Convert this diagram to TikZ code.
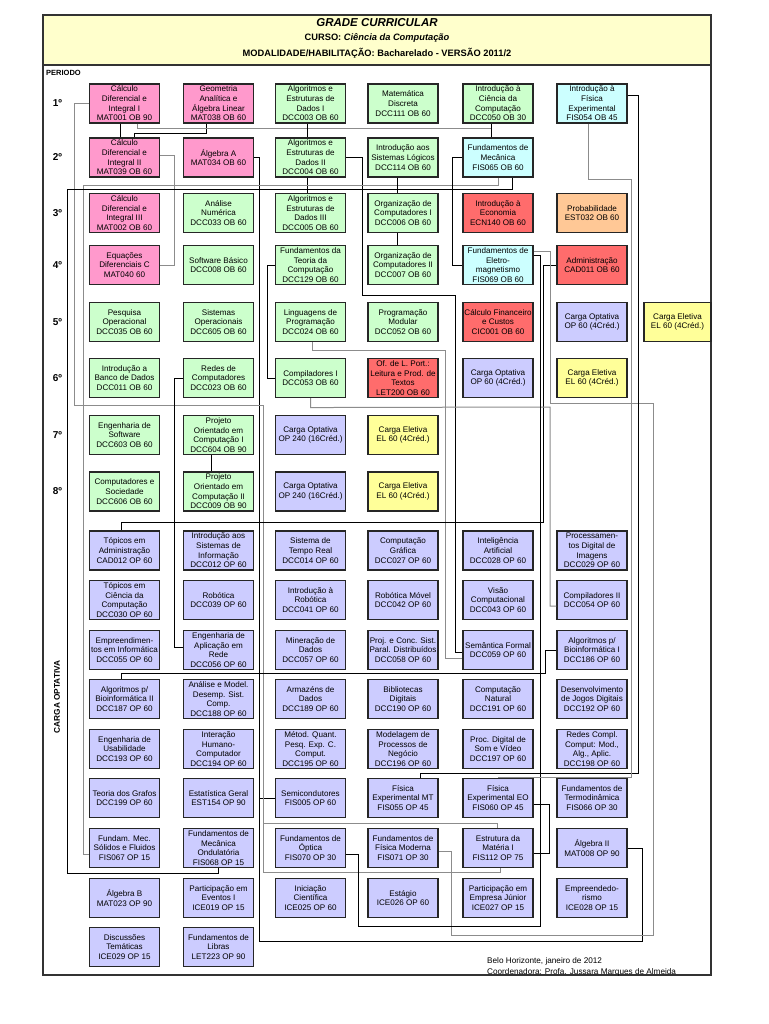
\documentclass[tikz,border=0pt]{standalone}
\usepackage{fontspec}
\setmainfont{Liberation Sans}
\definecolor{pk}{RGB}{255,153,204}
\definecolor{gr}{RGB}{204,255,204}
\definecolor{cy}{RGB}{204,255,255}
\definecolor{rd}{RGB}{255,108,108}
\definecolor{og}{RGB}{255,200,150}
\definecolor{lv}{RGB}{204,204,255}
\definecolor{yl}{RGB}{255,255,153}
\definecolor{hd}{RGB}{255,255,204}
\begin{document}
\begin{tikzpicture}[x=1pt,y=-1pt,
  box/.style={draw=black!85, line width=1.1pt, minimum width=70pt, minimum height=39pt, inner sep=1pt, align=center, font=\fontsize{8.1}{9.7}\selectfont},
  boxn/.style={box, minimum width=67pt},
  conn/.style={draw=black, line width=0.8pt},
  conng/.style={draw=black!45, line width=1pt},
  per/.style={font=\bfseries\fontsize{10}{12}\selectfont},
  frame/.style={draw=black!80, line width=1.2pt}]
\useasboundingbox (0,0) rectangle (768,1024);
\fill[white] (0,0) rectangle (768,1024);
% header and frame
\fill[hd] (43,15) rectangle (711,65);
\draw[frame] (43,15) rectangle (711,975);
\draw[frame] (43,65) -- (711,65);
\node[font=\bfseries\itshape\fontsize{11.5}{13}\selectfont] (title) at (377,23) {GRADE CURRICULAR};
\node[font=\bfseries\fontsize{9.3}{11}\selectfont] (curso) at (377,38) {CURSO: \textit{Ciência da Computação}};
\node[font=\bfseries\fontsize{9.3}{11}\selectfont] (modal) at (377,53) {MODALIDADE/HABILITAÇÃO: Bacharelado - VERSÃO 2011/2};
\node[anchor=west, font=\bfseries\fontsize{7.5}{9}\selectfont, inner sep=0pt] (periodo) at (46,73) {PERIODO};
% period labels
\node[per] (p1) at (57.5,103.5) {1º};
\node[per] (p2) at (57.5,157.5) {2º};
\node[per] (p3) at (57.5,213) {3º};
\node[per] (p4) at (57.5,265) {4º};
\node[per] (p5) at (57.5,322) {5º};
\node[per] (p6) at (57.5,378) {6º};
\node[per] (p7) at (57.5,435) {7º};
\node[per] (p8) at (57.5,491.5) {8º};
\node[rotate=90, font=\bfseries\fontsize{8.3}{10}\selectfont] (cargalbl) at (57,697) {CARGA OPTATIVA};
% row 1
\node[box,fill=pk] (MAT001) at (124.5,103.5) {Cálculo\\Diferencial e\\Integral I\\MAT001 OB 90};
\node[box,fill=pk] (MAT038) at (218.5,103.5) {Geometria\\Analítica e\\Álgebra Linear\\MAT038 OB 60};
\node[box,fill=gr] (DCC003) at (310.5,103.5) {Algoritmos e\\Estruturas de\\Dados I\\DCC003 OB 60};
\node[box,fill=gr] (DCC111) at (403,103.5) {Matemática\\Discreta\\DCC111 OB 60};
\node[box,fill=gr] (DCC050) at (498,103.5) {Introdução à\\Ciência da\\Computação\\DCC050 OB 30};
\node[box,fill=cy] (FIS054) at (592,103.5) {Introdução à\\Física\\Experimental\\FIS054 OB 45};
% row 2
\node[box,fill=pk] (MAT039) at (124.5,157.5) {Cálculo\\Diferencial e\\Integral II\\MAT039 OB 60};
\node[box,fill=pk] (MAT034) at (218.5,157.5) {Álgebra A\\MAT034 OB 60};
\node[box,fill=gr] (DCC004) at (310.5,157.5) {Algoritmos e\\Estruturas de\\Dados II\\DCC004 OB 60};
\node[box,fill=gr] (DCC114) at (403,157.5) {Introdução aos\\Sistemas Lógicos\\DCC114 OB 60};
\node[box,fill=cy] (FIS065) at (498,157.5) {Fundamentos de\\Mecânica\\FIS065 OB 60};
% row 3
\node[box,fill=pk] (MAT002) at (124.5,213) {Cálculo\\Diferencial e\\Integral III\\MAT002 OB 60};
\node[box,fill=gr] (DCC033) at (218.5,213) {Análise\\Numérica\\DCC033 OB 60};
\node[box,fill=gr] (DCC005) at (310.5,213) {Algoritmos e\\Estruturas de\\Dados III\\DCC005 OB 60};
\node[box,fill=gr] (DCC006) at (403,213) {Organização de\\Computadores I\\DCC006 OB 60};
\node[box,fill=rd] (ECN140) at (498,213) {Introdução à\\Economia\\ECN140 OB 60};
\node[box,fill=og] (EST032) at (592,213) {Probabilidade\\EST032 OB 60};
% row 4
\node[box,fill=pk] (MAT040) at (124.5,265) {Equações\\Diferenciais C\\MAT040 60};
\node[box,fill=gr] (DCC008) at (218.5,265) {Software Básico\\DCC008 OB 60};
\node[box,fill=gr] (DCC129) at (310.5,265) {Fundamentos da\\Teoria da\\Computação\\DCC129 OB 60};
\node[box,fill=gr] (DCC007) at (403,265) {Organização de\\Computadores II\\DCC007 OB 60};
\node[box,fill=cy] (FIS069) at (498,265) {Fundamentos de\\Eletro-\\magnetismo\\FIS069 OB 60};
\node[box,fill=rd] (CAD011) at (592,265) {Administração\\CAD011 OB 60};
% row 5
\node[box,fill=gr] (DCC035) at (124.5,322) {Pesquisa\\Operacional\\DCC035 OB 60};
\node[box,fill=gr] (DCC605) at (218.5,322) {Sistemas\\Operacionais\\DCC605 OB 60};
\node[box,fill=gr] (DCC024) at (310.5,322) {Linguagens de\\Programação\\DCC024 OB 60};
\node[box,fill=gr] (DCC052) at (403,322) {Programação\\Modular\\DCC052 OB 60};
\node[box,fill=rd] (CIC001) at (498,322) {Cálculo Financeiro\\e Custos\\CIC001 OB 60};
\node[box,fill=lv] (opt5) at (592,322) {Carga Optativa\\OP 60 (4Créd.)};
\node[boxn,fill=yl] (el5) at (677.5,322) {Carga Eletiva\\EL 60 (4Créd.)};
% row 6
\node[box,fill=gr] (DCC011) at (124.5,378) {Introdução a\\Banco de Dados\\DCC011 OB 60};
\node[box,fill=gr] (DCC023) at (218.5,378) {Redes de\\Computadores\\DCC023 OB 60};
\node[box,fill=gr] (DCC053) at (310.5,378) {Compiladores I\\DCC053 OB 60};
\node[box,fill=rd] (LET200) at (403,378) {Of. de L. Port.:\\Leitura e Prod. de\\Textos\\LET200 OB 60};
\node[box,fill=lv] (opt6) at (498,378) {Carga Optativa\\OP 60 (4Créd.)};
\node[box,fill=yl] (el6) at (592,378) {Carga Eletiva\\EL 60 (4Créd.)};
% row 7
\node[box,fill=gr] (DCC603) at (124.5,435) {Engenharia de\\Software\\DCC603 OB 60};
\node[box,fill=gr] (DCC604) at (218.5,435) {Projeto\\Orientado em\\Computação I\\DCC604 OB 90};
\node[box,fill=lv] (opt7) at (310.5,435) {Carga Optativa\\OP 240 (16Créd.)};
\node[box,fill=yl] (el7) at (403,435) {Carga Eletiva\\EL 60 (4Créd.)};
% row 8
\node[box,fill=gr] (DCC606) at (124.5,491.5) {Computadores e\\Sociedade\\DCC606 OB 60};
\node[box,fill=gr] (DCC009) at (218.5,491.5) {Projeto\\Orientado em\\Computação II\\DCC009 OB 90};
\node[box,fill=lv] (opt8) at (310.5,491.5) {Carga Optativa\\OP 240 (16Créd.)};
\node[box,fill=yl] (el8) at (403,491.5) {Carga Eletiva\\EL 60 (4Créd.)};
% optional A
\node[box,fill=lv] (CAD012) at (124.5,550.5) {Tópicos em\\Administração\\CAD012 OP 60};
\node[box,fill=lv] (DCC012) at (218.5,550.5) {Introdução aos\\Sistemas de\\Informação\\DCC012 OP 60};
\node[box,fill=lv] (DCC014) at (310.5,550.5) {Sistema de\\Tempo Real\\DCC014 OP 60};
\node[box,fill=lv] (DCC027) at (403,550.5) {Computação\\Gráfica\\DCC027 OP 60};
\node[box,fill=lv] (DCC028) at (498,550.5) {Inteligência\\Artificial\\DCC028 OP 60};
\node[box,fill=lv] (DCC029) at (592,550.5) {Processamen-\\tos Digital de\\Imagens\\DCC029 OP 60};
% optional B
\node[box,fill=lv] (DCC030) at (124.5,600) {Tópicos em\\Ciência da\\Computação\\DCC030 OP 60};
\node[box,fill=lv] (DCC039) at (218.5,600) {Robótica\\DCC039 OP 60};
\node[box,fill=lv] (DCC041) at (310.5,600) {Introdução à\\Robótica\\DCC041 OP 60};
\node[box,fill=lv] (DCC042) at (403,600) {Robótica Móvel\\DCC042 OP 60};
\node[box,fill=lv] (DCC043) at (498,600) {Visão\\Computacional\\DCC043 OP 60};
\node[box,fill=lv] (DCC054) at (592,600) {Compiladores II\\DCC054 OP 60};
% optional C
\node[box,fill=lv] (DCC055) at (124.5,650) {Empreendimen-\\tos em Informática\\DCC055 OP 60};
\node[box,fill=lv] (DCC056) at (218.5,650) {Engenharia de\\Aplicação em\\Rede\\DCC056 OP 60};
\node[box,fill=lv] (DCC057) at (310.5,650) {Mineração de\\Dados\\DCC057 OP 60};
\node[box,fill=lv] (DCC058) at (403,650) {Proj. e Conc. Sist.\\Paral. Distribuídos\\DCC058 OP 60};
\node[box,fill=lv] (DCC059) at (498,650) {Semântica Formal\\DCC059 OP 60};
\node[box,fill=lv] (DCC186) at (592,650) {Algoritmos p/\\Bioinformática I\\DCC186 OP 60};
% optional D
\node[box,fill=lv] (DCC187) at (124.5,699) {Algoritmos p/\\Bioinformática II\\DCC187 OP 60};
\node[box,fill=lv] (DCC188) at (218.5,699) {Análise e Model.\\Desemp. Sist.\\Comp.\\DCC188 OP 60};
\node[box,fill=lv] (DCC189) at (310.5,699) {Armazéns de\\Dados\\DCC189 OP 60};
\node[box,fill=lv] (DCC190) at (403,699) {Bibliotecas\\Digitais\\DCC190 OP 60};
\node[box,fill=lv] (DCC191) at (498,699) {Computação\\Natural\\DCC191 OP 60};
\node[box,fill=lv] (DCC192) at (592,699) {Desenvolvimento\\de Jogos Digitais\\DCC192 OP 60};
% optional E
\node[box,fill=lv] (DCC193) at (124.5,749) {Engenharia de\\Usabilidade\\DCC193 OP 60};
\node[box,fill=lv] (DCC194) at (218.5,749) {Interação\\Humano-\\Computador\\DCC194 OP 60};
\node[box,fill=lv] (DCC195) at (310.5,749) {Métod. Quant.\\Pesq. Exp. C.\\Comput.\\DCC195 OP 60};
\node[box,fill=lv] (DCC196) at (403,749) {Modelagem de\\Processos de\\Negócio\\DCC196 OP 60};
\node[box,fill=lv] (DCC197) at (498,749) {Proc. Digital de\\Som e Vídeo\\DCC197 OP 60};
\node[box,fill=lv] (DCC198) at (592,749) {Redes Compl.\\Comput: Mod.,\\Alg., Aplic.\\DCC198 OP 60};
% optional F
\node[box,fill=lv] (DCC199) at (124.5,798) {Teoria dos Grafos\\DCC199 OP 60};
\node[box,fill=lv] (EST154) at (218.5,798) {Estatística Geral\\EST154 OP 90};
\node[box,fill=lv] (FIS005) at (310.5,798) {Semicondutores\\FIS005 OP 60};
\node[box,fill=lv] (FIS055) at (403,798) {Física\\Experimental MT\\FIS055 OP 45};
\node[box,fill=lv] (FIS060) at (498,798) {Física\\Experimental EO\\FIS060 OP 45};
\node[box,fill=lv] (FIS066) at (592,798) {Fundamentos de\\Termodinâmica\\FIS066 OP 30};
% optional G
\node[box,fill=lv] (FIS067) at (124.5,848) {Fundam. Mec.\\Sólidos e Fluidos\\FIS067 OP 15};
\node[box,fill=lv] (FIS068) at (218.5,848) {Fundamentos de\\Mecânica\\Ondulatória\\FIS068 OP 15};
\node[box,fill=lv] (FIS070) at (310.5,848) {Fundamentos de\\Óptica\\FIS070 OP 30};
\node[box,fill=lv] (FIS071) at (403,848) {Fundamentos de\\Física Moderna\\FIS071 OP 30};
\node[box,fill=lv] (FIS112) at (498,848) {Estrutura da\\Matéria I\\FIS112 OP 75};
\node[box,fill=lv] (MAT008) at (592,848) {Álgebra II\\MAT008 OP 90};
% optional H
\node[box,fill=lv] (MAT023) at (124.5,898) {Álgebra B\\MAT023 OP 90};
\node[box,fill=lv] (ICE019) at (218.5,898) {Participação em\\Eventos I\\ICE019 OP 15};
\node[box,fill=lv] (ICE025) at (310.5,898) {Iniciação\\Científica\\ICE025 OP 60};
\node[box,fill=lv] (ICE026) at (403,898) {Estágio\\ICE026 OP 60};
\node[box,fill=lv] (ICE027) at (498,898) {Participação em\\Empresa Júnior\\ICE027 OP 15};
\node[box,fill=lv] (ICE028) at (592,898) {Empreendedo-\\rismo\\ICE028 OP 15};
% optional I
\node[box,fill=lv] (ICE029) at (124.5,947) {Discussões\\Temáticas\\ICE029 OP 15};
\node[box,fill=lv] (LET223) at (218.5,947) {Fundamentos de\\Libras\\LET223 OP 90};
% footer
\node[anchor=west, align=left, inner sep=0pt, font=\fontsize{8.2}{10.6}\selectfont] (footer) at (487,967) {Belo Horizonte, janeiro de 2012\\Coordenadora: Profa. Jussara Marques de Almeida};
% connectors
\draw[conn] ([xshift=-4.5pt]MAT001.south) -- ([xshift=-4.5pt]MAT039.north);
\draw[conn] ([xshift=-12.5pt]MAT038.south) -- ++(0,10) -| ([xshift=9.5pt]MAT039.north);
\draw[conng] ([xshift=12.5pt]MAT001.south) -- ++(0,5) -| ([xshift=-7pt]FIS065.north);
\draw[conn] ([xshift=-7pt]DCC050.south) -- ([xshift=-7pt]FIS065.north);
\draw[conn] ([xshift=-3.5pt]DCC003.south) -- ([xshift=-3.5pt]DCC004.north);
\draw[conn] ([xshift=-3.5pt]DCC004.south) -- ([xshift=-3.5pt]DCC005.north);
\draw[conng] ([yshift=1.5pt]MAT039.east) -- ++(14,0) |- (MAT040.east);
\draw[conn] (MAT034.east) -| (259,941) -- (642,941) |- (MAT008.east);
\draw[conn] (FIS005.west) -- ++(-16,0);
\draw[conn] (DCC004.east) -| (362,295) -- (455,295) |- ([yshift=-2pt]DCC059.west);
\draw[conn] (DCC129.west) -- ++(-8,0) |- (DCC053.west);
\draw[conng] (MAT001.west) -| (74,405) -- (263,405) -- (263,872) -| ([xshift=2pt]FIS112.south);
\draw[conng] (263,823) -| ([xshift=-1pt]FIS112.north);
\draw[conng] ([xshift=1.5pt]DCC024.south) -- ++(0,8) -| (445,658) -- ([yshift=-8pt]DCC059.west);
\draw[conn] (DCC023.west) -- ++(-9,0) |- ([yshift=3pt]DCC056.west);
\draw[conn] (CAD011.west) -| (543,522) -| ([xshift=-3.5pt]CAD012.north);
\draw[conng] (DCC053.south) -- ++(0,9.5) -- (550,407) |- ([yshift=-6pt]DCC054.west);
\draw[conng] ([yshift=14pt]FIS069.east) -- (550,251) -- (550,403) -- (653,403) -- (653,935) -- (451,935) |- ([yshift=-3pt]FIS071.east);
\draw[conn] ([yshift=10pt]FIS069.east) -- (540,255) -- (540,926) -- (358,926) |- ([yshift=-6pt]FIS070.east);
\draw[conn] (DCC186.west) -- (545,650) -- (545,673) -| ([xshift=-3.5pt]DCC187.north);
\draw[conn] ([yshift=8pt]FIS054.east) -| (638,773) -| ([xshift=17pt]FIS055.north);
\draw[conng] ([xshift=-4pt]FIS054.south) -- (588,180) -- (631,180) -- (631,777) -| (FIS060.north);
\draw[conn] ([yshift=-6pt]FIS060.east) -- (549,804) |- ([yshift=-5pt]FIS112.east);
\draw[conng] (FIS065.south) -- (498,186) -- (83,186) |- ([yshift=-6pt]FIS067.west);
\draw[conn] ([xshift=14pt]FIS065.south) -- (512,189) -- (67,189) -- (67,873) -| (FIS068.south);
\draw[conn] ([xshift=-6pt]DCC114.south) -- ([xshift=-6pt]DCC006.north);
\draw[conn] ([xshift=-6pt]DCC006.south) -- ([xshift=-6pt]DCC007.north);
\draw[conn] (FIS065.west) -- ++(-10,0) |- (FIS069.west);
\draw[conn] ([xshift=-7.5pt]DCC604.south) -- ([xshift=-7.5pt]DCC009.north);
\end{tikzpicture}
\end{document}
